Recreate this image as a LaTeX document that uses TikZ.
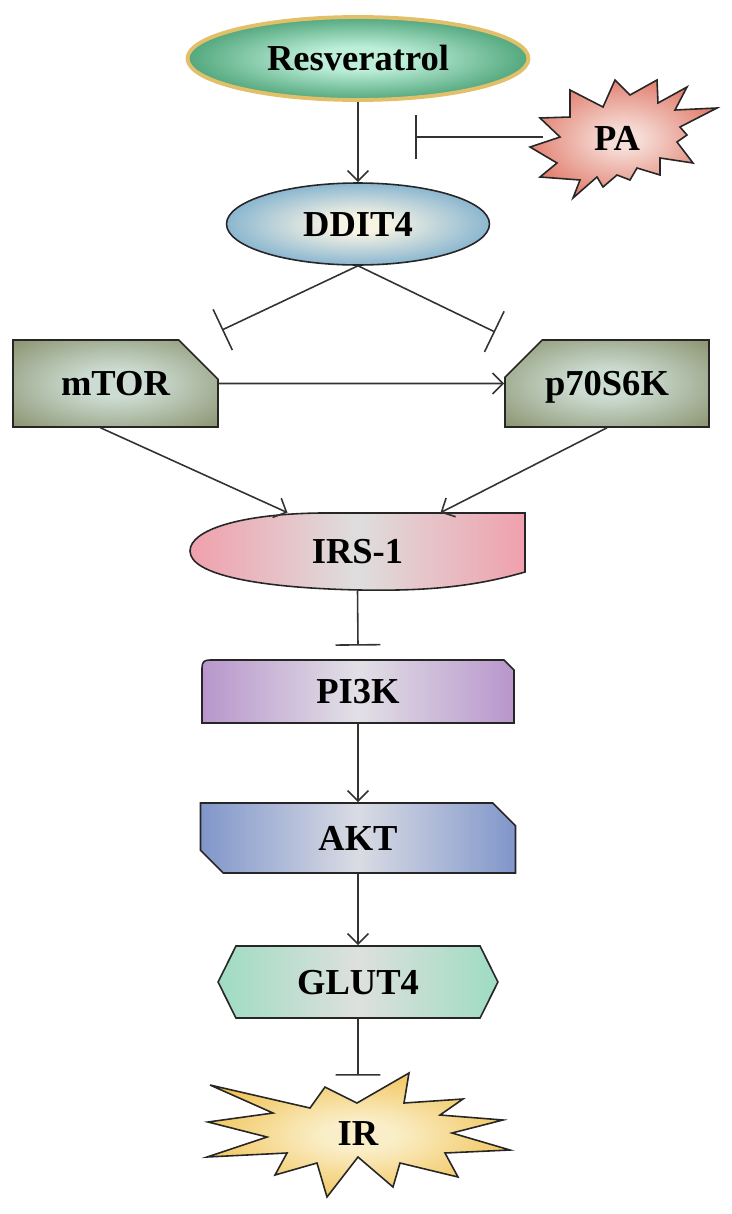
\documentclass[tikz,border=0pt]{standalone}
\usepackage{fontspec}
\setmainfont{Liberation Serif}
\usetikzlibrary{arrows.meta,shapes.geometric,shapes.misc,shapes.symbols}

\definecolor{resmid}{RGB}{188,238,216}
\definecolor{resedge}{RGB}{30,132,80}
\definecolor{resrim}{RGB}{226,192,105}
\definecolor{pamid}{RGB}{246,222,216}
\definecolor{paedge}{RGB}{222,110,92}
\definecolor{ddmid}{RGB}{248,244,228}
\definecolor{ddedge}{RGB}{84,152,198}
\definecolor{kinmid}{RGB}{204,220,210}
\definecolor{kinedge}{RGB}{128,136,96}
\definecolor{irsmid}{RGB}{222,222,222}
\definecolor{irsedge}{RGB}{240,160,172}
\definecolor{pimid}{RGB}{226,224,230}
\definecolor{piedge}{RGB}{184,150,204}
\definecolor{aktmid}{RGB}{218,220,228}
\definecolor{aktedge}{RGB}{128,150,202}
\definecolor{glmid}{RGB}{222,224,222}
\definecolor{gledge}{RGB}{158,220,194}
\definecolor{irmid}{RGB}{250,238,200}
\definecolor{iredge}{RGB}{240,190,72}

% soft radial fills, light over the middle
\pgfdeclareradialshading{resshade}{\pgfpointorigin}{color(0bp)=(resmid); color(7bp)=(resmid); color(34bp)=(resedge); color(50bp)=(resedge)}
\pgfdeclareradialshading{ddshade}{\pgfpointorigin}{color(0bp)=(ddmid); color(5bp)=(ddmid); color(35bp)=(ddedge); color(50bp)=(ddedge)}
\pgfdeclareradialshading{kinshade}{\pgfpointorigin}{color(0bp)=(kinmid); color(8bp)=(kinmid); color(40bp)=(kinedge); color(50bp)=(kinedge)}
\pgfdeclareradialshading{pashade}{\pgfpointorigin}{color(0bp)=(pamid); color(4bp)=(pamid); color(30bp)=(paedge); color(50bp)=(paedge)}
\pgfdeclareradialshading{irshade}{\pgfpointorigin}{color(0bp)=(irmid); color(6bp)=(irmid); color(30bp)=(iredge); color(50bp)=(iredge)}

\begin{document}
\begin{tikzpicture}[x=0.02cm,y=-0.02cm,
  txt/.style={font=\fontsize{20.8}{24}\selectfont\bfseries, text height=13.8pt, text depth=0pt, inner sep=0pt},
  outline/.style={draw=black!85, line width=0.9pt},
  act/.style={draw=black!80, line width=0.9pt, -{Straight Barb[length=6pt,width=12pt]}},
  inhib/.style={draw=black!80, line width=0.9pt, -{Bar[width=0.9cm]}}]
\useasboundingbox (0,0) rectangle (732,1214);

% Resveratrol and PA
\node[txt, ellipse, draw=resrim, line width=2.2pt, shade, shading=resshade,
  minimum width=6.82cm, minimum height=1.66cm] (res) at (358,58.5) {Resveratrol};

\shade[outline, shading=pashade]
  (570,90) -- (603,107) -- (615,80) -- (630,95) -- (657,80) -- (658,103) -- (687,87)
  -- (675,110) -- (717,108) -- (680,127) -- (687,135) -- (677,142) -- (693,163)
  -- (660,158) -- (660,175) -- (637,168) -- (630,180) -- (617,175) -- (603,187)
  -- (597,177) -- (573,198) -- (580,180) -- (540,177) -- (557,163) -- (530,147)
  -- (560,137) -- (540,118) -- (570,117) -- cycle;
\node[txt] (pa) at (617,138) {PA};

% DDIT4
\node[txt, ellipse, outline, shade, shading=ddshade,
  minimum width=5.26cm, minimum height=1.64cm] (ddit) at (358,224) {DDIT4};

% mTOR and p70S6K
\node[txt, chamfered rectangle, chamfered rectangle corners=north east,
  chamfered rectangle xsep=0.56cm, chamfered rectangle ysep=0.54cm,
  outline, shade, shading=kinshade,
  minimum width=4.1cm, minimum height=1.74cm] (mtor) at (115.5,383.5) {mTOR};
\node[txt, chamfered rectangle, chamfered rectangle corners=north west,
  chamfered rectangle xsep=0.54cm, chamfered rectangle ysep=0.5cm,
  outline, shade, shading=kinshade,
  minimum width=4.08cm, minimum height=1.74cm] (p70) at (607,383.5) {p70S6K};

% IRS-1
\shade[outline, left color=irsedge, right color=irsedge, middle color=irsmid]
  (525,513) -- (525,572) .. controls (470,588) and (420,591) .. (360,590)
  .. controls (260,588) and (190,575) .. (190,551)
  .. controls (190,530) and (240,514) .. (320,513) -- cycle;
\node[txt, minimum width=6.7cm, minimum height=1.54cm] (irs) at (357.5,551.5) {IRS-1};

% PI3K
\shade[outline, left color=piedge, right color=piedge, middle color=pimid]
  (202,723) -- (202,668) .. controls (202,662) and (204,660) .. (210,660)
  -- (504,660) -- (514,670) -- (514,723) -- cycle;
\node[txt, minimum width=6.24cm, minimum height=1.26cm] (pik) at (358,691.5) {PI3K};

% AKT
\node[txt, chamfered rectangle, chamfered rectangle corners={north east,south west},
  chamfered rectangle xsep=0.25cm, chamfered rectangle ysep=0.21cm,
  outline, left color=aktedge, right color=aktedge, middle color=aktmid,
  minimum width=6.3cm, minimum height=1.4cm] (akt) at (358,838) {AKT};

% GLUT4
\node[txt, signal, signal to={east and west}, signal pointer angle=127,
  outline, left color=gledge, right color=gledge, middle color=glmid,
  minimum width=5.6cm, minimum height=1.44cm] (glut) at (358,982) {GLUT4};

% IR
\shade[outline, shading=irshade]
  (210,1085) -- (310,1108) -- (325,1087) -- (357,1103) -- (409,1073) -- (404,1103)
  -- (463,1099) -- (440,1115) -- (503,1120) -- (452,1133) -- (510,1150) -- (445,1153)
  -- (458,1177) -- (400,1163) -- (393,1187) -- (358,1157) -- (327,1197) -- (317,1163)
  -- (275,1175) -- (287,1153) -- (207,1157) -- (267,1137) -- (208,1122) -- (273,1113)
  -- cycle;
\node[txt, minimum width=3cm, minimum height=2.28cm] (ir) at (358,1133) {IR};

% connectors
\coordinate (paline) at (543,137);
\coordinate (pabar) at (415,137);
\coordinate (mtorbar) at (222,330);
\coordinate (p70bar) at (495,332);
\draw[act] (res) -- (ddit);
\draw[inhib] (paline) -- (pabar);
\draw[inhib] (ddit.south) -- (mtorbar);
\draw[inhib] (ddit.south) -- (p70bar);
\draw[act] (mtor) -- (p70);
\draw[act] ([xshift=-0.3cm]mtor.south) -- ([xshift=-1.4cm]irs.north);
\draw[act] (p70.south) -- ([xshift=1.66cm]irs.north);
\draw[inhib] (irs.south) -- ([yshift=0.28cm]pik.north);
\draw[act] (pik) -- (akt);
\draw[act] (akt) -- (glut);
\draw[inhib] (glut) -- (ir);

\end{tikzpicture}
\end{document}
